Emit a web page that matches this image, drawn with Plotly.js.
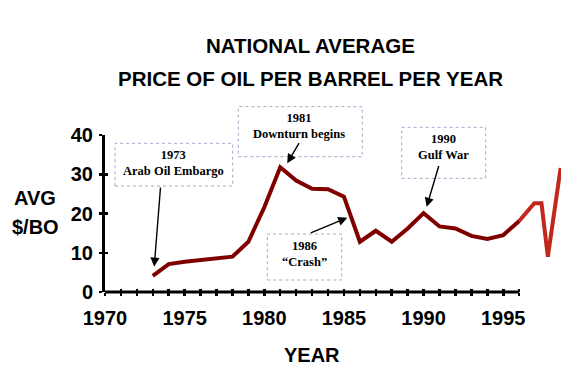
<!DOCTYPE html>
<html>
<head>
<meta charset="utf-8">
<script src="https://cdn.plot.ly/plotly-3.0.1.min.js"></script>
<style>html,body{margin:0;padding:0;background:#fff;}#chart{width:561px;height:375px;}</style>
</head>
<body>
<div id="chart"></div>
<script>
// ---- data ----
var years = [1973, 1974, 1975, 1976, 1977, 1978, 1979, 1980, 1981, 1982, 1983, 1984,
             1985, 1986, 1987, 1988, 1989, 1990, 1991, 1992, 1993, 1994, 1995, 1996];
var prices = [4.1, 7.1, 7.7, 8.2, 8.6, 9.0, 12.8, 21.6, 31.8, 28.4, 26.3, 26.2,
              24.3, 12.8, 15.6, 12.8, 16.2, 20.1, 16.7, 16.2, 14.3, 13.5, 14.5, 18.1];
var extYears = [1996, 1996.95, 1997.4, 1997.8, 1998.6];
var extPrices = [18.1, 22.6, 22.6, 9.0, 31.6];
var xTickVals = [1970,1971,1972,1973,1974,1975,1976,1977,1978,1979,1980,1981,1982,
                 1983,1984,1985,1986,1987,1988,1989,1990,1991,1992,1993,1994,1995,1996];
var xTickText = xTickVals.map(function(v){ return v % 5 === 0 ? String(v) : ''; });
var yTickVals = [0, 10, 20, 30, 40];
var titleLines = ['NATIONAL AVERAGE', 'PRICE OF OIL PER BARREL PER YEAR'];
var yTitleLines = ['AVG', '$/BO'];
var xTitle = 'YEAR';
var events = [
  {label: '1973<br>Arab Oil Embargo', year: 1973.09, price: 6.45},
  {label: '1981<br>Downturn begins', year: 1981.44, price: 32.8},
  {label: '1986<br>\u201cCrash\u201d', year: 1985.21, price: 18.9},
  {label: '1990<br>Gulf War', year: 1990.19, price: 21.7}
];

// ---- layout helpers (pixel -> paper) ----
var L = 105, T = 135, W = 456, H = 157;
function px(x){ return (x - L) / W; }
function py(y){ return (T + H - y) / H; }

var sans = 'Arial, "Liberation Sans", sans-serif';
var serif = '"Times New Roman", "Liberation Serif", serif';

// box geometry and arrow tails (pixels)
var boxes = [
  {x0:115, y0:143.3, x1:232.7, y1:186, tx:173, ty:162.5, ax:6.4, ay:-80.7},
  {x0:238.3, y0:106.7, x1:362.3, y1:156.7, tx:299, ty:126, ax:12.7, ay:-21.6},
  {x0:267.3, y0:234, x1:341.7, y1:280, tx:304, ty:253.5, ax:-38, ay:15.6},
  {x0:401.7, y0:127.3, x1:485.7, y1:178.3, tx:443, ty:146.5, ax:12.6, ay:-42.4}
];

var traces = [
  {x: years, y: prices, type: 'scatter', mode: 'lines',
   line: {color: '#800000', width: 4}, hoverinfo: 'skip'},
  {x: extYears, y: extPrices, type: 'scatter', mode: 'lines',
   line: {color: '#c0281c', width: 4}, hoverinfo: 'skip'},
  {x: [], y: [], xaxis: 'x2', yaxis: 'y2', type: 'scatter', mode: 'lines', hoverinfo: 'skip'}
];

var annotations = [];
titleLines.forEach(function(t, i){
  annotations.push({text: t, xref:'paper', yref:'paper', x: px(310), y: py(i === 0 ? 46 : 78),
    xanchor:'center', yanchor:'middle', showarrow:false,
    font:{family: sans, size: 20.5, color:'#000', weight:'bold'}});
});
yTitleLines.forEach(function(t, i){
  annotations.push({text: t, xref:'paper', yref:'paper', x: px(35), y: py(i === 0 ? 198 : 227),
    xanchor:'center', yanchor:'middle', showarrow:false,
    font:{family: sans, size: 20, color:'#000', weight:'bold'}});
});
annotations.push({text: xTitle, xref:'paper', yref:'paper', x: px(312), y: py(355),
  xanchor:'center', yanchor:'middle', showarrow:false,
  font:{family: sans, size: 20, color:'#000', weight:'bold'}});

var shapes = [
  {type:'line', xref:'x', yref:'paper', x0: xTickVals[0], x1: xTickVals[xTickVals.length-1],
   y0: 0, y1: 0, line:{color:'#000', width:3}}
];

events.forEach(function(ev, i){
  var b = boxes[i];
  shapes.push({type:'rect', xref:'paper', yref:'paper', x0: px(b.x0), x1: px(b.x1),
    y0: py(b.y1), y1: py(b.y0), line:{color:'#a8a4c8', width:1, dash:'dot'}, fillcolor:'rgba(0,0,0,0)'});
  annotations.push({text: ev.label, xref:'paper', yref:'paper', x: px(b.tx), y: py(b.ty),
    xanchor:'center', yanchor:'middle', showarrow:false,
    font:{family: serif, size: 12.5, color:'#000', weight:'bold'}});
  annotations.push({text: '', x: ev.year, y: ev.price, xref:'x', yref:'y',
    showarrow:true, ax: b.ax, ay: b.ay, arrowhead:2, arrowsize:1.3, arrowwidth:1.4, arrowcolor:'#000'});
});

var layout = {
  width: 561, height: 375,
  margin: {l: L, r: 561 - L - W, t: T, b: 375 - T - H, pad: 0},
  paper_bgcolor: '#fff', plot_bgcolor: '#fff',
  showlegend: false,
  xaxis: {range: [1970, 1970 + W / 15.93], showline: false, showgrid: false, zeroline: false,
    tickmode: 'array', tickvals: xTickVals, ticktext: xTickText,
    ticks: 'outside', ticklen: 3, tickwidth: 2.5, tickcolor: '#000',
    ticklabelstandoff: 5,
    tickfont: {family: sans, size: 20, color: '#000', weight: 'bold'}},
  yaxis: {range: [0, 40], showline: true, linewidth: 3, linecolor: '#000',
    showgrid: false, zeroline: false, tickmode: 'array', tickvals: yTickVals,
    ticks: 'outside', ticklen: 3, tickwidth: 2.5, tickcolor: '#000',
    ticklabelstandoff: 2,
    tickfont: {family: sans, size: 20, color: '#000', weight: 'bold'}},
  xaxis2: {overlaying: 'x', anchor: 'y2', range: [1970, 1970 + W / 15.93], showline: false,
    showgrid: false, zeroline: false, tickmode: 'array', tickvals: xTickVals,
    showticklabels: false, ticks: 'inside', ticklen: 3, tickwidth: 2.5, tickcolor: '#000'},
  yaxis2: {overlaying: 'y', anchor: 'x2', range: [0, 40], showline: false, showgrid: false,
    zeroline: false, tickmode: 'array', tickvals: yTickVals, side: 'left',
    showticklabels: false, ticks: 'inside', ticklen: 3, tickwidth: 2.5, tickcolor: '#000'},
  annotations: annotations,
  shapes: shapes
};

Plotly.newPlot('chart', traces, layout, {staticPlot: true, displayModeBar: false});
</script>
</body>
</html>
